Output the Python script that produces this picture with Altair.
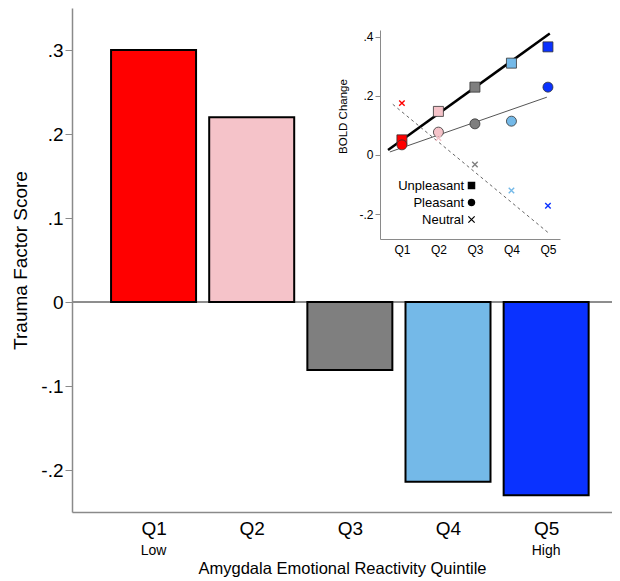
import json
import altair as alt
import pandas as pd

# ---------------- data ----------------
quintiles = ["Q1", "Q2", "Q3", "Q4", "Q5"]
positions = [1, 2, 3, 4, 5]
trauma_scores = [0.30, 0.22, -0.081, -0.214, -0.230]
quintile_colors = ["#ff0000", "#f5c3c9", "#7f7f7f", "#74b9e8", "#0a32ff"]
end_labels = ["Low", "High"]
end_positions = [1, 5]

emotions = ["Unpleasant", "Pleasant", "Neutral"]
bold_unpleasant = [0.051, 0.147, 0.229, 0.310, 0.365]
bold_pleasant = [0.034, 0.077, 0.105, 0.114, 0.229]
bold_neutral = [0.175, 0.057, -0.032, -0.120, -0.172]

fit_unpleasant_x = [0.62, 5.05]
fit_unpleasant_y = [0.017, 0.410]
fit_pleasant_x = [0.67, 4.97]
fit_pleasant_y = [0.010, 0.195]
fit_neutral_x = [0.75, 5.05]
fit_neutral_y = [0.171, -0.267]

main_y_ticks = [-0.2, -0.1, 0, 0.1, 0.2, 0.3]
inset_y_ticks = [-0.2, 0, 0.2, 0.4]

# ---------------- tables ----------------
bars_df = pd.DataFrame({"Q": quintiles, "pos": positions, "score": trauma_scores})
ends_df = pd.DataFrame({"pos": end_positions, "label": end_labels})
pts_rows = []
for emo, vals in zip(emotions, [bold_unpleasant, bold_pleasant, bold_neutral]):
    for q, p, v in zip(quintiles, positions, vals):
        pts_rows.append({"Q": q, "pos": p, "emotion": emo, "bold": v})
pts_df = pd.DataFrame(pts_rows)
fit_u = pd.DataFrame({"x": fit_unpleasant_x, "y": fit_unpleasant_y})
fit_p = pd.DataFrame({"x": fit_pleasant_x, "y": fit_pleasant_y})
fit_n = pd.DataFrame({"x": fit_neutral_x, "y": fit_neutral_y})

FONT = "Liberation Sans"
W, H = 540, 504
q_expr = json.dumps(quintiles) + "[datum.value - 1]"
dec_expr = ("datum.value == 0 ? '0' : (datum.value < 0 ? '-' : '') + "
            "replace(format(abs(datum.value), '.1f'), '0.', '.')")

color_scale = alt.Scale(domain=quintiles, range=quintile_colors)

# ---------------- main chart ----------------
mx = alt.Scale(domain=[0.22, 5.62], nice=False, zero=False)
my = alt.Scale(domain=[-0.25, 0.35], nice=False, zero=False)

x_axis = alt.Axis(values=positions, labelExpr=q_expr, ticks=False, grid=False,
                  labelFontSize=19, labelPadding=7, labelColor="black",
                  title="Amygdala Emotional Reactivity Quintile", titleFontSize=16.5,
                  titleFontWeight="normal", titleColor="black", titlePadding=22,
                  domainColor="#8a8a8a", domainWidth=1.5)
y_axis = alt.Axis(values=main_y_ticks, labelExpr=dec_expr, grid=False, tickSize=7,
                  tickColor="#8a8a8a", domainColor="#8a8a8a", domainWidth=1.5,
                  labelFontSize=19, labelPadding=2, labelColor="black",
                  title="Trauma Factor Score", titleFontSize=19, titleFontWeight="normal",
                  titleColor="black", titlePadding=10)

bars = alt.Chart(bars_df).mark_bar(width=85, stroke="black", strokeWidth=2).encode(
    x=alt.X("pos:Q", scale=mx, axis=x_axis),
    y=alt.Y("score:Q", scale=my, axis=y_axis),
    color=alt.Color("Q:N", scale=color_scale, legend=None),
)
zero_rule = alt.Chart(bars_df).mark_rule(color="#8a8a8a", strokeWidth=1).encode(
    y=alt.datum(0), x=alt.value(0), x2=alt.value(W)
)
ends = alt.Chart(ends_df).mark_text(fontSize=14, baseline="middle", font=FONT).encode(
    x=alt.X("pos:Q", scale=mx), y=alt.value(H + 39), text="label:N"
)
main = alt.layer(zero_rule, bars, ends)

# ---------------- inset ----------------
ix = alt.Scale(domain=[0.4, 5.33], range=[308, 488], nice=False, zero=False)
iy = alt.Scale(domain=[-0.284, 0.422], range=[231, 22], nice=False, zero=False)

ix_axis = alt.Axis(values=positions, labelExpr=q_expr, orient="bottom", offset=-273,
                   ticks=False, grid=False, labelFontSize=12, labelPadding=5,
                   labelColor="black", title=None, domainColor="#8a8a8a")
iy_axis = alt.Axis(values=inset_y_ticks, labelExpr=dec_expr, orient="left", offset=-308,
                   grid=False, tickSize=5, tickColor="#8a8a8a", domainColor="#8a8a8a",
                   labelFontSize=12, labelPadding=2, labelColor="black",
                   title="BOLD Change", titleFontSize=11.5, titleFontWeight="normal",
                   titleColor="black", titlePadding=10, titleY=108)

xpath = "M-1,-1L1,1M1,-1L-1,1"
shape_scale = alt.Scale(domain=emotions, range=["square", "circle", xpath])
shape_legend = alt.Legend(orient="none", legendX=393, legendY=171, title=None,
                          labelAlign="right", labelOffset={"expr": "-14"}, labelFontSize=13,
                          labelColor="black", labelFont=FONT,
                          symbolSize=40, symbolFillColor="black", symbolStrokeColor="black",
                          symbolStrokeWidth=1.2, rowPadding=3, padding=0)

fit_u_line = alt.Chart(fit_u).mark_line(color="black", strokeWidth=2.5).encode(
    x=alt.X("x:Q", scale=ix, axis=ix_axis), y=alt.Y("y:Q", scale=iy, axis=iy_axis))
fit_p_line = alt.Chart(fit_p).mark_line(color="#555555", strokeWidth=1).encode(
    x=alt.X("x:Q", scale=ix), y=alt.Y("y:Q", scale=iy))
fit_n_line = alt.Chart(fit_n).mark_line(color="#666666", strokeWidth=1, strokeDash=[3, 3]).encode(
    x=alt.X("x:Q", scale=ix), y=alt.Y("y:Q", scale=iy))

solid_pts = alt.Chart(pts_df).transform_filter("datum.emotion != 'Neutral'").mark_point(
    filled=True, size=100, stroke="#333333", strokeWidth=0.8, opacity=1).encode(
    x=alt.X("pos:Q", scale=ix), y=alt.Y("bold:Q", scale=iy),
    color=alt.Color("Q:N", scale=color_scale, legend=None),
    shape=alt.Shape("emotion:N", scale=shape_scale, legend=shape_legend),
)
x_pts = alt.Chart(pts_df).transform_filter("datum.emotion == 'Neutral'").mark_point(
    filled=False, size=30, strokeWidth=1.4, opacity=1).encode(
    x=alt.X("pos:Q", scale=ix), y=alt.Y("bold:Q", scale=iy),
    color=alt.Color("Q:N", scale=color_scale, legend=None),
    shape=alt.Shape("emotion:N", scale=shape_scale, legend=shape_legend),
)
inset = alt.layer(fit_u_line, fit_p_line, fit_n_line, solid_pts, x_pts)

chart = alt.layer(main, inset).resolve_scale(x="independent", y="independent").properties(
    width=W, height=H,
    autosize=alt.AutoSizeParams(type="none"),
    padding={"left": 64, "top": 0, "right": 0, "bottom": 66},
).configure(font=FONT).configure_view(stroke=None)

chart.save("out.html", embed_options={"renderer": "svg", "actions": False})
